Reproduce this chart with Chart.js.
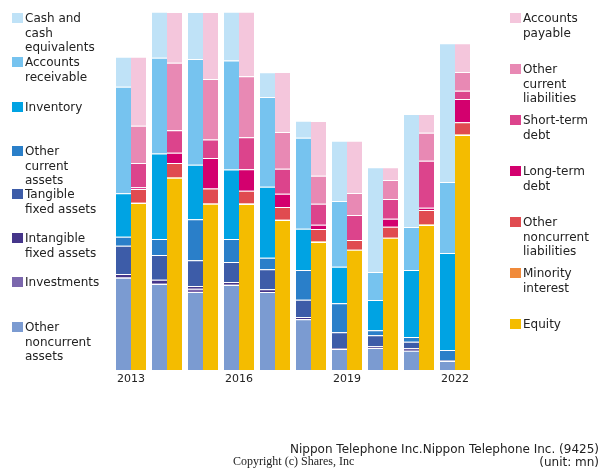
<!DOCTYPE html>
<html><head><meta charset="utf-8">
<script src="https://cdn.jsdelivr.net/npm/chart.js@4"></script>
<style>
body{margin:0;background:#fff;font-family:"DejaVu Sans",sans-serif;}
#wrap{position:relative;width:600px;height:470px;overflow:hidden;}
canvas{position:absolute;left:0;top:0;}
.lg{position:absolute;font-size:12px;line-height:14.5px;color:#222;}
.sq{position:absolute;width:11px;height:10px;}
.t1{position:absolute;font-size:12px;color:#222;white-space:nowrap;}
.cp{position:absolute;font-family:"Liberation Serif",serif;font-size:12px;color:#222;white-space:nowrap;}
</style></head>
<body><div id="wrap"><canvas id="c" width="600" height="470"></canvas></div>
<script>
const years = ["2013","2014","2015","2016","2017","2018","2019","2020","2021","2022"];
const tickYears = ["2013","2016","2019","2022"];
// Assets (left bar), bottom to top
const otherNoncurrentAssets = [92.3, 86, 78, 85, 78, 50.7, 21, 22, 19.3, 9];
const investments = [0.7, 0.3, 3.3, 0.3, 0, 0.3, 0, 0, 0, 0];
const intangibleFixedAssets = [3, 4, 2.7, 2.7, 2.7, 2, 1, 1.7, 2.4, 0.3];
const tangibleFixedAssets = [28.3, 24.7, 25.7, 20, 20, 17.3, 15.7, 11, 6.6, 0.7];
const otherCurrentAssets = [9, 16, 41, 23, 11.6, 29.7, 29, 5, 4.7, 10];
const inventory = [43.4, 85.6, 54.6, 69.6, 71, 41.3, 36.6, 30.3, 67, 97];
const accountsReceivable = [106.6, 95.7, 105.7, 109, 89.7, 91, 65.7, 28, 43, 71];
const cashAndEquivalents = [30, 46, 47, 48.7, 24.7, 17, 60.3, 104.7, 113, 138.7];
// Liabilities + equity (right bar), bottom to top
const equity = [167, 192.3, 166.3, 166, 150, 128, 120.3, 132.3, 145, 235];
const minorityInterest = [0.3, 0.7, 0.3, 0.5, 0.3, 1, 0, 0, 1, 1];
const otherNoncurrentLiabilities = [13.7, 14, 15, 12.7, 12.7, 12, 9.7, 11, 14, 11.7];
const longTermDebt = [1.7, 10.3, 30.3, 21.6, 13.3, 4.3, 0, 8, 2.3, 23.3];
const shortTermDebt = [24.3, 22.4, 18.7, 32, 25, 21, 25, 19.7, 47, 8.3];
const otherCurrentLiabilities = [37.3, 67.6, 60.3, 61, 36.7, 28, 22, 19, 28, 18.7];
const accountsPayable = [69, 50.7, 67, 64.5, 60, 54.7, 52.3, 12.7, 18.7, 28.7];

const assetSeries = [
  ["Other noncurrent assets", otherNoncurrentAssets, "#7b9bd1"],
  ["Investments", investments, "#7b67ad"],
  ["Intangible fixed assets", intangibleFixedAssets, "#45358a"],
  ["Tangible fixed assets", tangibleFixedAssets, "#3d5ca8"],
  ["Other current assets", otherCurrentAssets, "#2a7fc9"],
  ["Inventory", inventory, "#00a3e3"],
  ["Accounts receivable", accountsReceivable, "#76c3ef"],
  ["Cash and cash equivalents", cashAndEquivalents, "#bfe2f7"]
];
const liabSeries = [
  ["Equity", equity, "#f4bc00"],
  ["Minority interest", minorityInterest, "#f08a3a"],
  ["Other noncurrent liabilities", otherNoncurrentLiabilities, "#e04b50"],
  ["Long-term debt", longTermDebt, "#d3006e"],
  ["Short-term debt", shortTermDebt, "#dc448c"],
  ["Other current liabilities", otherCurrentLiabilities, "#e889b4"],
  ["Accounts payable", accountsPayable, "#f4c6dc"]
];
const datasets = [];
assetSeries.forEach(s => datasets.push({label:s[0], data:s[1], backgroundColor:s[2], stack:"a",
  borderWidth:{top:1,left:0,right:0,bottom:0}, borderColor:"rgba(255,255,255,0.3)", borderSkipped:false}));
liabSeries.forEach(s => datasets.push({label:s[0], data:s[1], backgroundColor:s[2], stack:"l",
  borderWidth:{top:1,left:0,right:0,bottom:0}, borderColor:"rgba(255,255,255,0.3)", borderSkipped:false}));

new Chart(document.getElementById("c"), {
  type: "bar",
  data: { labels: years, datasets },
  options: {
    responsive:false, animation:false,
    layout:{padding:{left:113,right:127,top:12,bottom:80}},
    plugins:{legend:{display:false}, tooltip:{enabled:false}},
    datasets:{bar:{categoryPercentage:30/36, barPercentage:1}},
    scales:{
      x:{stacked:true, grid:{display:false,drawTicks:false}, border:{display:false},
        afterFit:(s)=>{s.height=20;},
        ticks:{autoSkip:false, maxRotation:0, padding:3, color:"#222", font:{family:"DejaVu Sans",size:11},
          callback:function(v,i){const l=years[i];return tickYears.includes(l)?l:"";}}},
      y:{stacked:true, display:false, min:0, max:358}
    }
  }
});

const wrap = document.getElementById("wrap");
function legendItem(x, y, color, text){
  const s=document.createElement("div");s.className="sq";s.style.left=x+"px";s.style.top=y+"px";s.style.background=color;wrap.appendChild(s);
  const t=document.createElement("div");t.className="lg";t.style.left=(x+13)+"px";t.style.top=(y-2)+"px";t.innerHTML=text;wrap.appendChild(t);
}
const leftLegend = [
  ["Cash and<br>cash<br>equivalents","#bfe2f7",13],
  ["Accounts<br>receivable","#76c3ef",57],
  ["Inventory","#00a3e3",102],
  ["Other<br>current<br>assets","#2a7fc9",146],
  ["Tangible<br>fixed assets","#3d5ca8",189],
  ["Intangible<br>fixed assets","#45358a",233],
  ["Investments","#7b67ad",277],
  ["Other<br>noncurrent<br>assets","#7b9bd1",322]
];
leftLegend.forEach(l=>legendItem(12,l[2],l[1],l[0]));
const rightLegend = [
  ["Accounts<br>payable","#f4c6dc",13],
  ["Other<br>current<br>liabilities","#e889b4",64],
  ["Short-term<br>debt","#dc448c",115],
  ["Long-term<br>debt","#d3006e",166],
  ["Other<br>noncurrent<br>liabilities","#e04b50",217],
  ["Minority<br>interest","#f08a3a",268],
  ["Equity","#f4bc00",319]
];
rightLegend.forEach(l=>legendItem(510,l[2],l[1],l[0]));

function addText(cls, text, style){
  const d=document.createElement("div");d.className=cls;d.textContent=text;Object.assign(d.style,style);wrap.appendChild(d);
}
addText("t1","Nippon Telephone Inc.Nippon Telephone Inc. (9425)",{right:"1px",top:"442px"});
addText("t1","(unit: mn)",{right:"1px",top:"455px"});
addText("cp","Copyright (c) Shares, Inc",{left:"233px",top:"454px"});
</script>
</body></html>
